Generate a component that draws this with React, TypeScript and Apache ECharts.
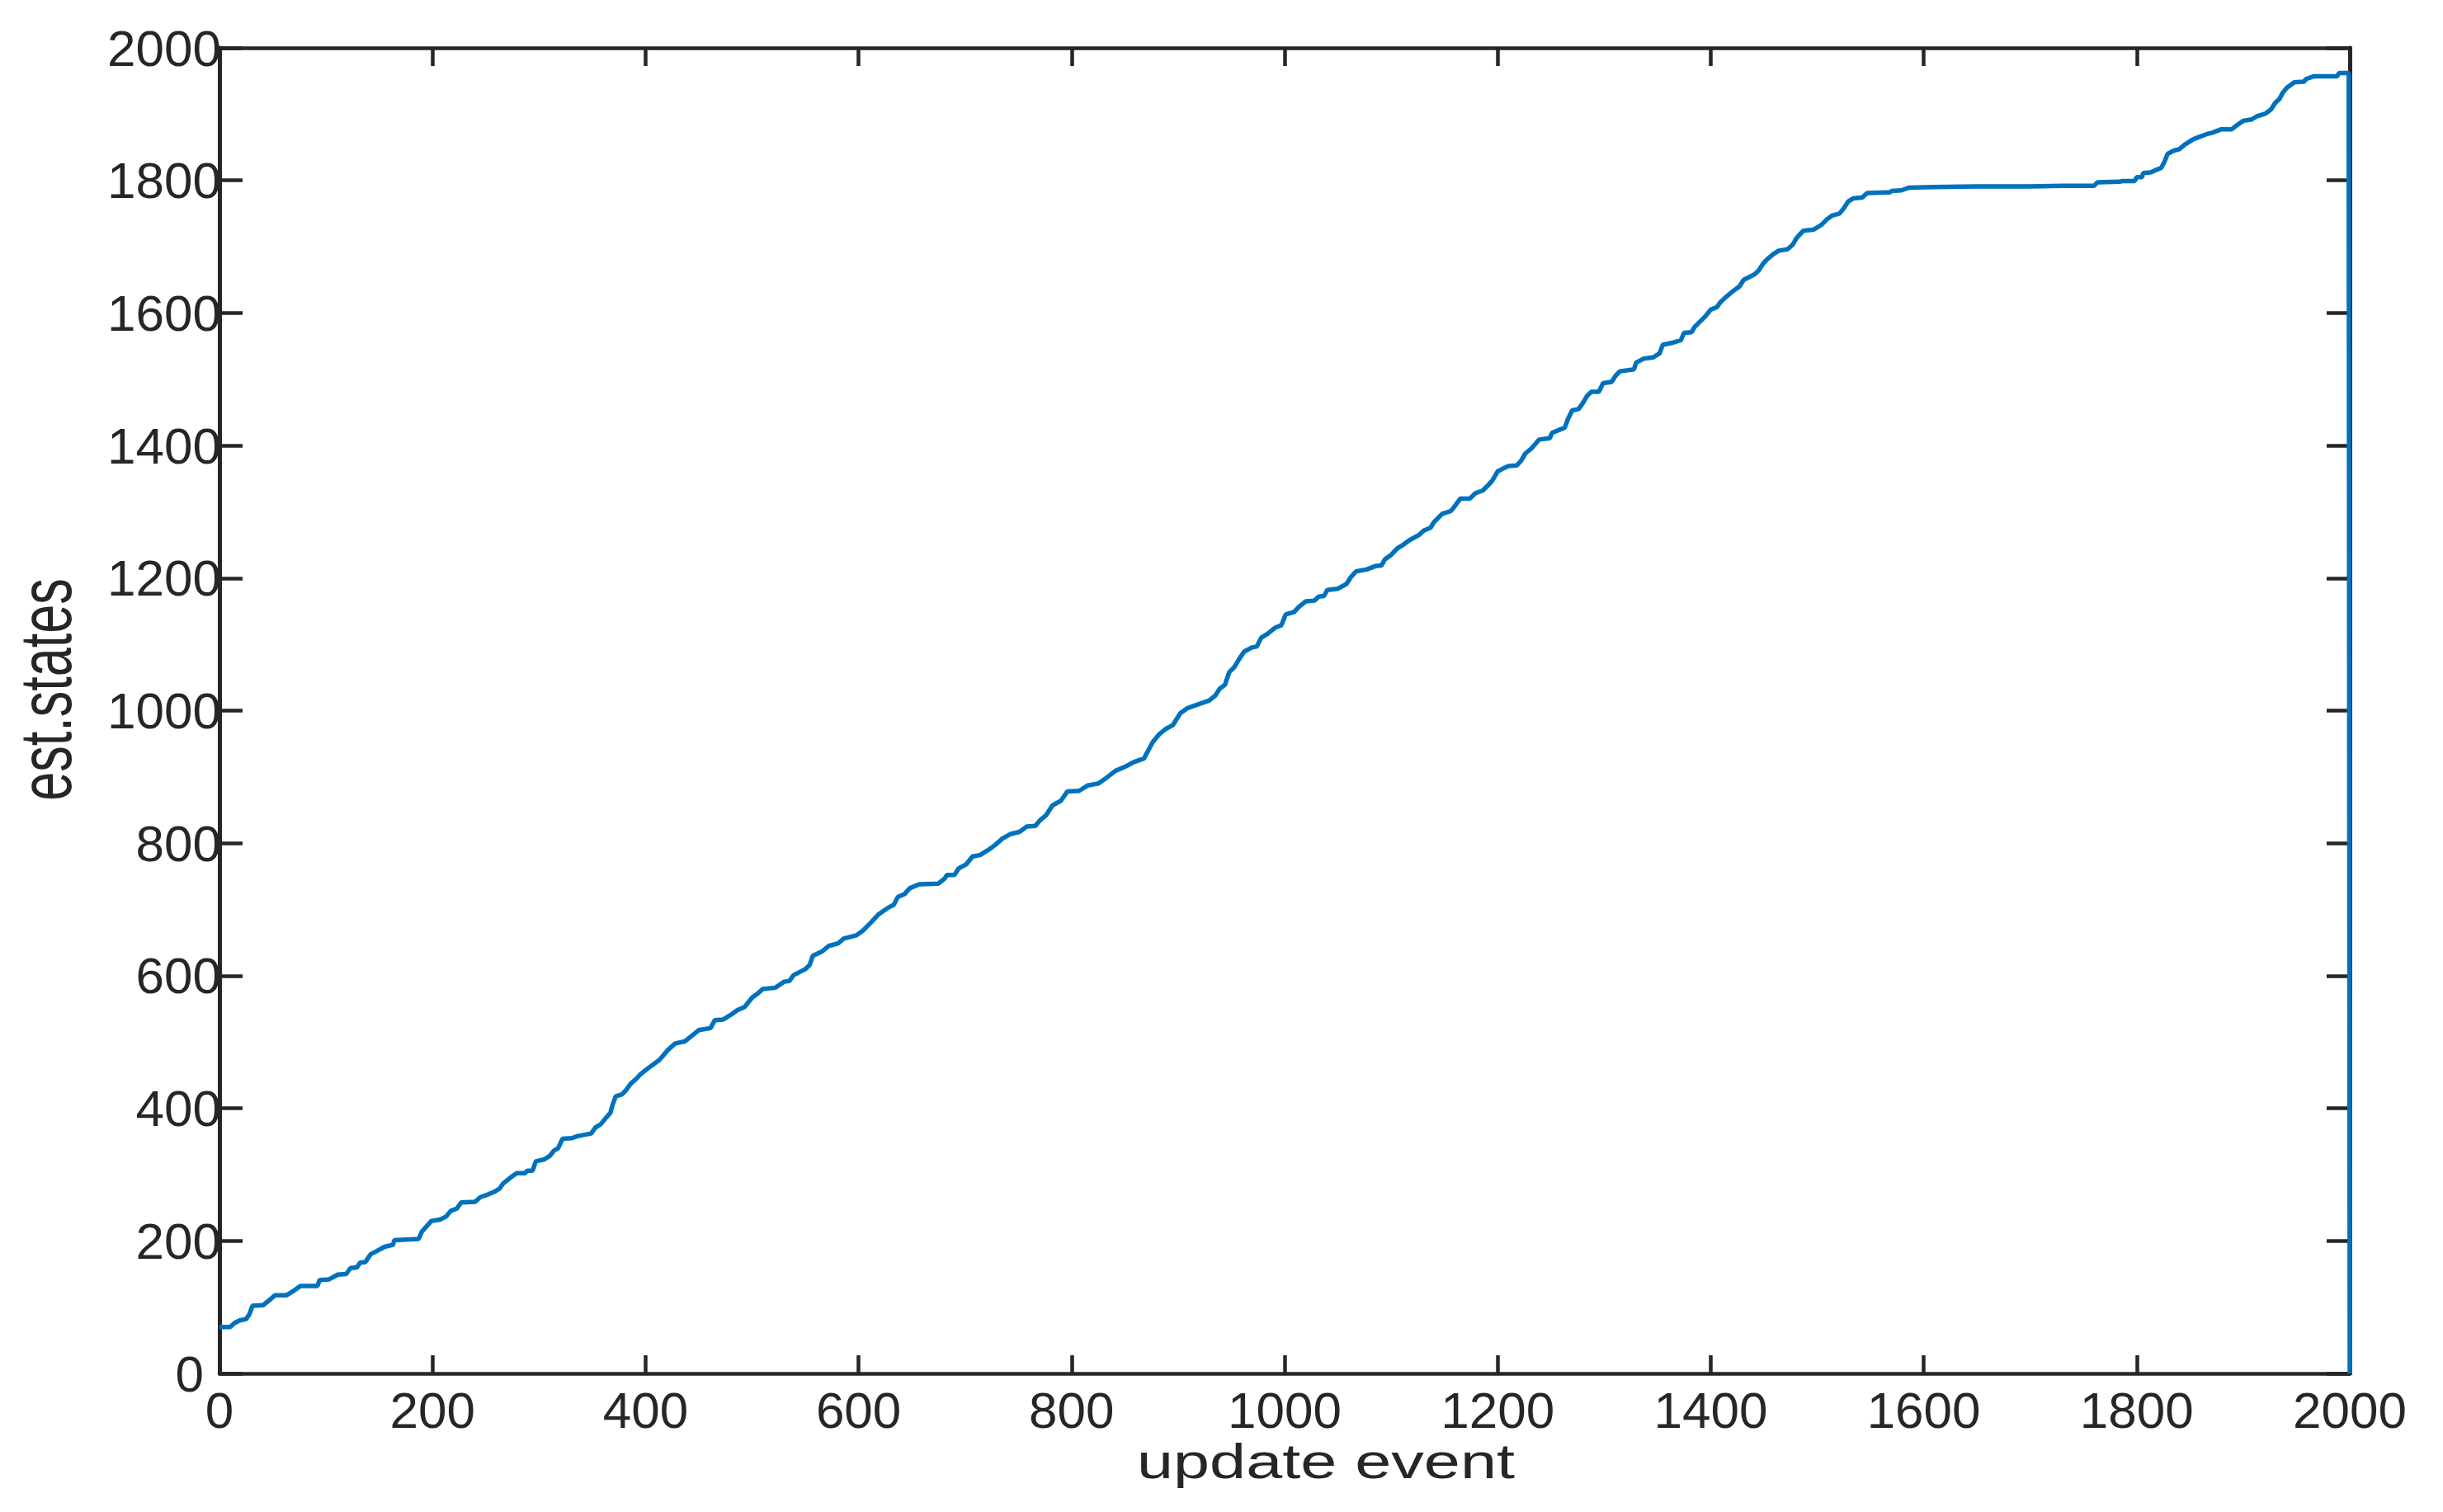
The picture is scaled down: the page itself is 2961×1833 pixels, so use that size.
import React, { useEffect, useRef } from "react";
import * as echarts from "echarts";

// update event index (x) and estimated number of states (y)
const updateEvents = [
  0, 10, 14, 19, 25, 28, 31, 41, 48, 52, 63, 70, 76, 92, 94, 103, 111, 119, 123, 129,
  132, 137, 142, 147, 155, 163, 164, 187, 190, 199, 207, 213, 217, 223, 227, 240, 245, 252, 258, 263,
  266, 272, 279, 287, 289, 294, 297, 305, 310, 314, 318, 322, 331, 336, 349, 353, 358, 363, 367, 369,
  372, 378, 382, 386, 391, 395, 402, 413, 421, 428, 437, 444, 450, 461, 465, 473, 481, 486, 493, 500,
  506, 510, 522, 530, 535, 539, 550, 554, 557, 566, 572, 581, 586, 598, 604, 612, 619, 628, 633, 637,
  643, 648, 657, 675, 681, 683, 690, 694, 701, 707, 714, 722, 728, 735, 743, 751, 758, 766, 770, 776,
  782, 790, 796, 807, 815, 825, 833, 841, 851, 858, 868, 872, 876, 882, 889, 895, 902, 909, 920, 929,
  935, 939, 944, 948, 953, 957, 962, 969, 974, 978, 984, 991, 997, 1001, 1009, 1013, 1020, 1028, 1032, 1037,
  1040, 1050, 1058, 1062, 1067, 1077, 1085, 1091, 1094, 1100, 1106, 1112, 1117, 1126, 1131, 1137, 1140, 1148, 1156, 1160,
  1165, 1174, 1179, 1186, 1191, 1195, 1200, 1206, 1210, 1218, 1222, 1226, 1232, 1239, 1249, 1251, 1257, 1263, 1266, 1270,
  1276, 1280, 1284, 1288, 1295, 1299, 1307, 1311, 1315, 1328, 1330, 1337, 1346, 1352, 1355, 1364, 1372, 1375, 1382, 1385,
  1390, 1395, 1400, 1406, 1409, 1415, 1421, 1427, 1431, 1436, 1441, 1445, 1449, 1453, 1459, 1464, 1472, 1477, 1481, 1487,
  1497, 1504, 1509, 1514, 1521, 1525, 1529, 1534, 1542, 1547, 1568, 1570, 1579, 1586, 1609, 1650, 1700, 1731, 1760, 1763,
  1784, 1786, 1798, 1800, 1805, 1806, 1813, 1817, 1823, 1826, 1829, 1835, 1840, 1845, 1853, 1861, 1866, 1871, 1879, 1889,
  1893, 1900, 1908, 1913, 1921, 1926, 1930, 1934, 1937, 1941, 1948, 1957, 1959, 1966, 1988, 1990, 1999, 2000,
];

const estStates = [
  70, 70, 76, 80, 82, 89, 102, 103, 112, 118, 118, 125, 132, 132, 141, 142, 149, 150, 159, 160,
  167, 168, 180, 184, 191, 194, 201, 203, 214, 230, 232, 237, 245, 249, 258, 259, 266, 270, 274, 279,
  286, 294, 302, 302, 306, 306, 320, 323, 328, 336, 340, 354, 355, 358, 362, 371, 376, 386, 393, 405,
  418, 421, 428, 437, 444, 451, 460, 473, 488, 498, 501, 510, 518, 521, 533, 534, 542, 548, 553, 567,
  574, 580, 582, 591, 592, 601, 610, 616, 630, 637, 645, 649, 656, 661, 668, 681, 693, 703, 707, 719,
  723, 732, 738, 739, 747, 752, 752, 762, 768, 780, 782, 790, 797, 807, 814, 817, 825, 826, 834, 842,
  857, 864, 878, 879, 887, 890, 899, 909, 916, 922, 928, 940, 952, 964, 973, 978, 996, 1004, 1010, 1015,
  1023, 1033, 1039, 1058, 1066, 1077, 1089, 1095, 1097, 1110, 1116, 1125, 1129, 1145, 1149, 1156, 1165, 1166, 1172, 1173,
  1182, 1184, 1191, 1201, 1210, 1213, 1218, 1219, 1228, 1235, 1245, 1251, 1257, 1265, 1272, 1276, 1284, 1297, 1301, 1309,
  1320, 1320, 1328, 1332, 1340, 1347, 1361, 1366, 1369, 1370, 1377, 1388, 1396, 1409, 1411, 1419, 1423, 1427, 1440, 1453,
  1455, 1464, 1475, 1481, 1481, 1494, 1496, 1506, 1512, 1515, 1525, 1531, 1533, 1539, 1552, 1555, 1559, 1570, 1571, 1579,
  1587, 1595, 1605, 1609, 1616, 1625, 1633, 1640, 1650, 1654, 1658, 1664, 1674, 1681, 1689, 1694, 1696, 1703, 1714, 1724,
  1726, 1733, 1741, 1747, 1750, 1758, 1768, 1773, 1774, 1781, 1782, 1784, 1785, 1789, 1790, 1791, 1791, 1792, 1792, 1797,
  1798, 1799, 1799, 1805, 1805, 1811, 1812, 1815, 1819, 1828, 1840, 1845, 1847, 1854, 1862, 1867, 1870, 1872, 1877, 1877,
  1882, 1890, 1892, 1897, 1901, 1907, 1917, 1923, 1932, 1940, 1948, 1949, 1953, 1957, 1957, 1962, 1962, 0,
];

const xTickLabels = ["0", "200", "400", "600", "800", "1000", "1200", "1400", "1600", "1800", "2000"];
const yTickLabels = ["0", "200", "400", "600", "800", "1000", "1200", "1400", "1600", "1800", "2000"];

const X_TITLE = "update event";
const Y_TITLE = "est.states";

const AXIS_COLOR = "#262626";
const LINE_COLOR = "#0072BD";
const FONT = "'Liberation Sans', Arial, Helvetica, sans-serif";

export default function App() {
  const ref = useRef<HTMLDivElement>(null);

  useEffect(() => {
    if (!ref.current) return;
    const chart = echarts.init(ref.current, undefined, { renderer: "svg" });

    const data = updateEvents.map((x, i) => [x, estStates[i]]);
    const xMin = Number(xTickLabels[0]);
    const xMax = Number(xTickLabels[xTickLabels.length - 1]);
    const xStep = Number(xTickLabels[1]) - xMin;
    const yMin = Number(yTickLabels[0]);
    const yMax = Number(yTickLabels[yTickLabels.length - 1]);
    const yStep = Number(yTickLabels[1]) - yMin;

    const baseX = {
      type: "value" as const,
      min: xMin,
      max: xMax,
      interval: xStep,
      splitLine: { show: false },
      axisLine: { show: true, onZero: false, lineStyle: { color: AXIS_COLOR, width: 4.5 } },
      axisTick: { show: true, inside: true, length: 22, lineStyle: { color: AXIS_COLOR, width: 4.5 } },
    };
    const baseY = {
      type: "value" as const,
      min: yMin,
      max: yMax,
      interval: yStep,
      splitLine: { show: false },
      axisLine: { show: true, onZero: false, lineStyle: { color: AXIS_COLOR, width: 5 } },
      axisTick: { show: true, inside: true, length: 28, lineStyle: { color: AXIS_COLOR, width: 4.5 } },
    };

    chart.setOption({
      animation: false,
      backgroundColor: "#ffffff",
      textStyle: { fontFamily: FONT },
      grid: { left: 266, right: 113, top: 58, bottom: 168, containLabel: false },
      xAxis: [
        {
          ...baseX,
          position: "bottom",
          axisLabel: {
            show: true,
            margin: 24,
            fontSize: 62,
            lineHeight: 40,
            color: AXIS_COLOR,
            fontFamily: FONT,
            formatter: (v: number) => xTickLabels[Math.round((v - xMin) / xStep)] ?? "",
          },
        },
        { ...baseX, position: "top", axisLabel: { show: false } },
      ],
      yAxis: [
        {
          ...baseY,
          position: "left",
          axisLabel: {
            show: true,
            margin: -2,
            fontSize: 62,
            lineHeight: 40,
            color: AXIS_COLOR,
            fontFamily: FONT,
            formatter: (v: number) => {
              const label = yTickLabels[Math.round((v - yMin) / yStep)] ?? "";
              return v === yMin ? `{origin|${label}}` : label;
            },
            rich: {
              origin: {
                fontSize: 62,
                lineHeight: 40,
                color: AXIS_COLOR,
                fontFamily: FONT,
                padding: [0, 21, 0, 0],
              },
            },
          },
        },
        { ...baseY, position: "right", axisLabel: { show: false } },
      ],
      graphic: [
        {
          type: "text",
          x: 1607,
          y: 1771,
          scaleX: 1.32,
          silent: true,
          style: {
            text: X_TITLE,
            fill: AXIS_COLOR,
            font: `60px ${FONT}`,
            align: "center",
            verticalAlign: "middle",
          },
        },
        {
          type: "text",
          x: 56,
          y: 836,
          rotation: Math.PI / 2,
          scaleY: 1.4,
          silent: true,
          style: {
            text: Y_TITLE,
            fill: AXIS_COLOR,
            font: `63px ${FONT}`,
            align: "center",
            verticalAlign: "middle",
          },
        },
      ],
      series: [
        {
          type: "line",
          data,
          xAxisIndex: 0,
          yAxisIndex: 0,
          showSymbol: false,
          symbol: "none",
          lineStyle: { color: LINE_COLOR, width: 5.5 },
          z: 5,
        },
      ],
    });

    return () => chart.dispose();
  }, []);

  return (
    <div
      ref={ref}
      style={{ position: "fixed", left: 0, top: 0, width: 2961, height: 1833, background: "#fff" }}
    />
  );
}
